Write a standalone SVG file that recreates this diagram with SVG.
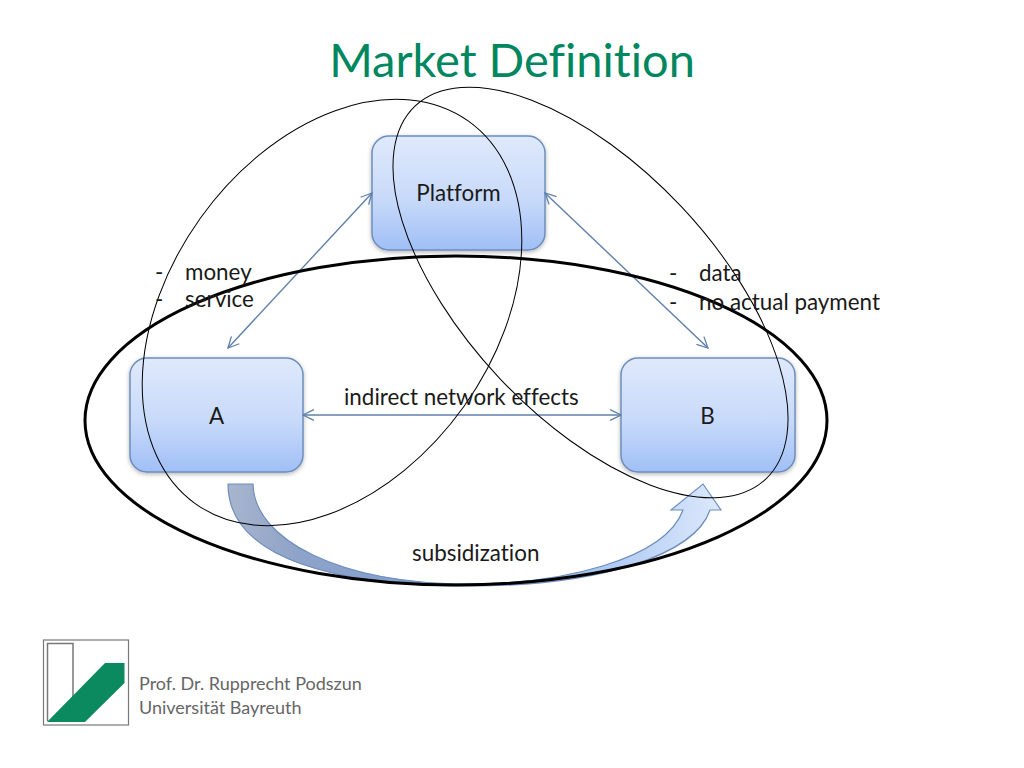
<svg xmlns="http://www.w3.org/2000/svg" width="1024" height="768" viewBox="0 0 1024 768">
<defs>
<linearGradient id="boxFill" x1="0" y1="0" x2="0" y2="1"><stop offset="0" stop-color="#dfe9fb"/><stop offset="0.55" stop-color="#c8dafa"/><stop offset="1" stop-color="#a0bff6"/></linearGradient>
<linearGradient id="curveFill" gradientUnits="userSpaceOnUse" x1="228" y1="484" x2="721" y2="510"><stop offset="0" stop-color="#a8b5cd"/><stop offset="0.15" stop-color="#8ea3c8"/><stop offset="0.45" stop-color="#7f9fd3"/><stop offset="0.75" stop-color="#a9c6f2"/><stop offset="1" stop-color="#dde9fc"/></linearGradient>
<filter id="shadow" x="-10%" y="-10%" width="120%" height="120%"><feDropShadow dx="0" dy="1.5" stdDeviation="2" flood-color="#000" flood-opacity="0.3"/></filter>
<marker id="open" viewBox="0 0 12 12" refX="11" refY="6" markerWidth="13" markerHeight="13" markerUnits="userSpaceOnUse" orient="auto-start-reverse"><path d="M1 1L11 6L1 11" fill="none" stroke="#5f80ab" stroke-width="1.2"/></marker>
</defs>
<style>
text{font-family:Lato,"Open Sans",Carlito,sans-serif;fill:#1a1a1a;font-size:22.400px;font-variant-ligatures:none}
.box{fill:url(#boxFill);stroke:#6d8ebc;stroke-width:1.5;filter:url(#shadow)}
.ring{fill:none;stroke:#000;stroke-width:1}
.link{fill:none;stroke:#5f80ab;stroke-width:1.4;marker-start:url(#open);marker-end:url(#open)}
.foot{font-size:18px;fill:#666}
.c{text-anchor:middle}
</style>
<rect width="1024" height="768" fill="#fff"/>
<text id="title" x="512" y="77" class="c" style="font-size:47px;fill:#00875f">Market Definition</text>
<g id="node-platform"><rect class="box" x="372" y="136" width="173" height="114" rx="17"/><text x="458.500" y="201" class="c">Platform</text></g>
<g id="node-a"><rect class="box" x="130" y="358" width="173" height="114" rx="17"/><text x="216.500" y="424" class="c">A</text></g>
<g id="node-b"><rect class="box" x="621" y="358" width="174" height="114" rx="17"/><text x="707.500" y="424" class="c">B</text></g>
<g id="connectors">
<path class="link" d="M372 193L228 348"/>
<path class="link" d="M545 193L708 348"/>
<path class="link" d="M303 415H621"/>
<path id="subsidy" d="M228 484H253C254 540 340 584 469 584C560 584 665 560 683 510H671L703 484L721 510H710C695 555 600 586 469 586C340 586 228 560 228 484Z" fill="url(#curveFill)" stroke="#6d8ebc" stroke-width="1.2"/>
</g>
<g id="rings">
<ellipse class="ring" cx="456" cy="420.500" rx="371" ry="164.500" style="stroke-width:3"/>
<ellipse class="ring" cx="332" cy="312.500" rx="235" ry="162" transform="rotate(-54.500 332 312.500)"/>
<ellipse class="ring" cx="590.500" cy="292.500" rx="256" ry="125" transform="rotate(46.800 590.500 292.500)"/>
</g>
<g id="labels">
<text x="155" y="280">-</text><text x="185" y="280">money</text>
<text x="155" y="307">-</text><text x="185" y="307">service</text>
<text x="669" y="281">-</text><text x="699" y="281">data</text>
<text x="669" y="310">-</text><text x="699" y="310">no actual payment</text>
<text x="344" y="405">indirect network effects</text>
<text x="412" y="561">subsidization</text>
</g>
<g id="logo">
<rect x="43.500" y="640" width="85" height="85" fill="#fff" stroke="#777" stroke-width="1.2"/>
<path d="M47.500 721V643.500H73V700" fill="none" stroke="#777" stroke-width="1.500"/>
<path d="M47 722L105 663H124.500V683L85 722Z" fill="#0b8a60"/>
</g>
<g id="footer"><text class="foot" x="139" y="690">Prof. Dr. Rupprecht Podszun</text><text class="foot" x="139" y="714">Universität Bayreuth</text></g>
</svg>
